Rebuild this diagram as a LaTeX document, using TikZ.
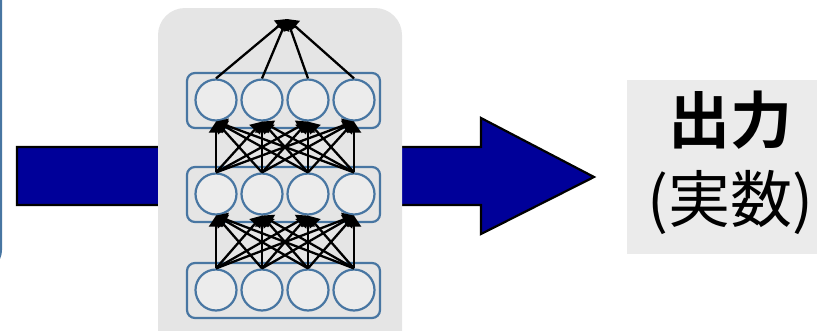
\documentclass[tikz,border=0pt]{standalone}
\usepackage{fontspec}
\newfontfamily\cjk[BoldFont={Noto Sans CJK JP Bold}]{Noto Sans CJK JP}
\usetikzlibrary{arrows.meta}
\definecolor{arrowblue}{RGB}{0,0,153}
\definecolor{layerblue}{RGB}{72,118,162}
\definecolor{panelgray}{RGB}{229,229,229}
\definecolor{neurongray}{RGB}{236,236,236}
\definecolor{outgray}{RGB}{235,235,235}
\tikzset{
  neuron/.style={circle, draw=layerblue, line width=2.2pt, fill=neurongray, minimum size=41pt, inner sep=0pt},
  layerbox/.style={draw=layerblue, line width=2.2pt, rounded corners=8pt},
  conn/.style={line width=2.3pt, -{Triangle[length=11pt,width=14pt]}},
}
\begin{document}
\begin{tikzpicture}[x=1pt,y=-1pt]
\useasboundingbox (0,0) rectangle (817,330);
\clip (0,0) rectangle (817,330);
% left partial box
\draw[draw=layerblue, line width=2pt, rounded corners=20pt] (-200,-30) rectangle (1,270);
% big arrow
\draw[fill=arrowblue, line width=2.2pt, line join=miter]
  (17,147) -- (481,147) -- (481,118) -- (594,177) -- (481,234) -- (481,205) -- (17,205) -- cycle;
% panel
\fill[panelgray, rounded corners=27pt] (158,8) rectangle (402,360);
% layer boxes
\draw[layerbox] (187,73) rectangle (380,128);
\draw[layerbox] (187,167) rectangle (380,222);
\draw[layerbox] (187,263) rectangle (380,318);
% neurons
\foreach \i/\x in {1/216,2/262,3/308,4/354}{
  \node[neuron] (t\i) at (\x,100) {};
  \node[neuron] (m\i) at (\x,194) {};
  \node[neuron] (b\i) at (\x,290) {};
}
\coordinate (out) at (287,19);
% connections
\foreach \i in {1,...,4}{
  \foreach \j in {1,...,4}{
    \draw[conn] (b\i.north) -- (m\j.south);
    \draw[conn] (m\i.north) -- (t\j.south);
  }
  \draw[conn] (t\i.north) -- (out);
}
% output box
\fill[outgray] (627,80) rectangle (850,254);
\node[align=center, font=\cjk\fontsize{62}{79}\selectfont, inner sep=0pt] (txt) at (730,163)
  {\textbf{出力}\\(実数)};
\end{tikzpicture}
\end{document}
